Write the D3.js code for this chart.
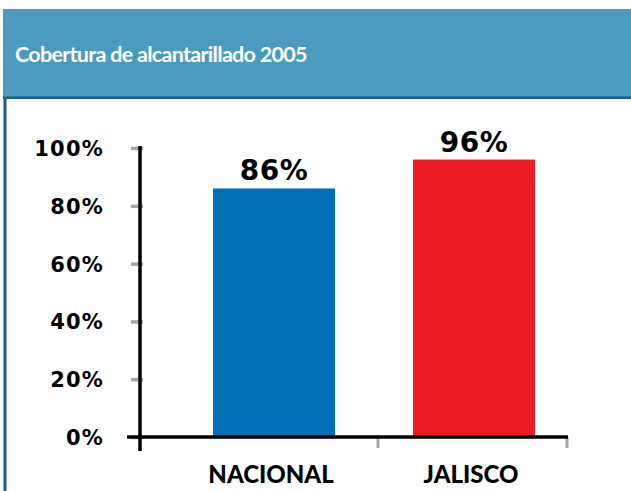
<!DOCTYPE html>
<html>
<head>
<meta charset="utf-8">
<script src="https://cdn.jsdelivr.net/npm/d3@7"></script>
<style>
  html, body { margin: 0; padding: 0; background: #ffffff; }
  svg { display: block; }
</style>
</head>
<body>
<svg id="chart" width="631" height="491"></svg>
<script>
// Sewer coverage, 2005
const title = "Cobertura de alcantarillado 2005";
const categories = ["NACIONAL", "JALISCO"];
const coverage = [86, 96];
const barColors = ["#0070bb", "#ed1c24"];
const yTicks = [0, 20, 40, 60, 80, 100];

const svg = d3.select("#chart");

// Header band and panel frame
svg.append("rect").attr("x", 3).attr("y", 9).attr("width", 628).attr("height", 88)
  .attr("fill", "#4b9bc0");
svg.append("rect").attr("x", 3).attr("y", 96.5).attr("width", 628).attr("height", 2.5)
  .attr("fill", "#17608c");
svg.append("rect").attr("x", 3.5).attr("y", 97).attr("width", 3).attr("height", 394)
  .attr("fill", "#17608c");

svg.append("text")
  .attr("x", 15).attr("y", 62)
  .attr("fill", "#ffffff")
  .attr("font-family", "Lato, sans-serif")
  .attr("font-weight", "bold")
  .attr("font-size", 21.5)
  .attr("letter-spacing", -0.7)
  .text(title);

// Scales
const y = d3.scaleLinear().domain([0, 100]).range([437, 148]);
const x = d3.scaleBand().domain(categories).range([174, 574])
  .paddingInner(0.39).paddingOuter(0.195);

// Bars
svg.append("g").selectAll("rect")
  .data(categories)
  .join("rect")
  .attr("x", d => x(d))
  .attr("width", x.bandwidth())
  .attr("y", (d, i) => y(coverage[i]))
  .attr("height", (d, i) => y(0) - y(coverage[i]))
  .attr("fill", (d, i) => barColors[i]);

// Value labels
svg.append("g").selectAll("text")
  .data(categories)
  .join("text")
  .attr("x", d => x(d) + x.bandwidth() / 2)
  .attr("y", (d, i) => y(coverage[i]) - 8)
  .attr("text-anchor", "middle")
  .attr("font-family", "DejaVu Sans, sans-serif")
  .attr("font-weight", "bold")
  .attr("font-size", 28)
  .attr("letter-spacing", 0.5)
  .attr("fill", "#000")
  .text((d, i) => coverage[i] + "%");

// Y axis: grey tick marks, black spine, bold labels
const yAxis = d3.axisLeft(y).tickValues(yTicks).tickSize(12).tickSizeOuter(0)
  .tickFormat(d => d + "%");
const gy = svg.append("g").attr("transform", "translate(143,0)").call(yAxis);
gy.select(".domain").remove();
gy.selectAll(".tick line").attr("stroke", "#a6a6a6").attr("stroke-width", 3.5);
gy.selectAll(".tick text")
  .attr("x", -39)
  .attr("dy", "0.36em")
  .attr("font-family", "DejaVu Sans, sans-serif")
  .attr("font-weight", "bold")
  .attr("font-size", 21)
  .attr("letter-spacing", 1.2)
  .attr("fill", "#000");

// Category boundary ticks on the x axis
const boundaries = [378, 567];
svg.append("g").selectAll("line")
  .data(boundaries)
  .join("line")
  .attr("x1", d => d).attr("x2", d => d)
  .attr("y1", 437).attr("y2", 448)
  .attr("stroke", "#a6a6a6").attr("stroke-width", 3);

// Axis spines
svg.append("line").attr("x1", 127).attr("x2", 568).attr("y1", y(0)).attr("y2", y(0))
  .attr("stroke", "#000").attr("stroke-width", 3.5);
svg.append("line").attr("x1", 140).attr("x2", 140).attr("y1", 146).attr("y2", 451)
  .attr("stroke", "#000").attr("stroke-width", 3.5);

// Category labels
svg.append("g").selectAll("text")
  .data(categories)
  .join("text")
  .attr("x", d => x(d) + x.bandwidth() / 2 - 3)
  .attr("y", 483)
  .attr("text-anchor", "middle")
  .attr("font-family", "Lato, sans-serif")
  .attr("font-weight", "900")
  .attr("font-size", 24)
  .attr("fill", "#000")
  .text(d => d);
</script>
</body>
</html>
